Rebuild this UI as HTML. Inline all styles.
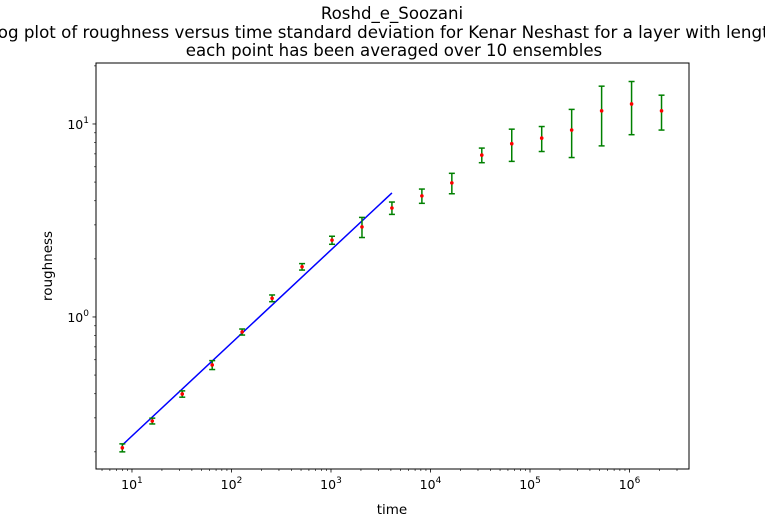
<!DOCTYPE html>
<html><head><meta charset="utf-8"><style>
body{margin:0;background:#fff;}
svg{display:block;font-family:"DejaVu Sans","Liberation Sans",sans-serif;}
</style></head><body>
<svg id="chart" width="765" height="527" viewBox="0 0 765 527">
<text x="392" y="19" text-anchor="middle" font-size="16.6">Roshd_e_Soozani</text>
<text x="389" y="38" text-anchor="middle" font-size="16.7">log-log plot of roughness versus time standard deviation for Kenar Neshast for a layer with length 200</text>
<text x="394" y="56" text-anchor="middle" font-size="16.6">each point has been averaged over 10 ensembles</text>
<text x="392" y="514" text-anchor="middle" font-size="13.5">time</text>
<text x="52" y="266" text-anchor="middle" font-size="13.5" transform="rotate(-90 52 266)">roughness</text>
<g id="plot"></g>
<rect x="96" y="63" width="593" height="406" fill="none" stroke="#000" stroke-width="1"/>
</svg>
<script>
const times=[8,16,32,64,128,256,512,1024,2048,4096,8192,16384,32768,65536,131072,262144,524288,1048576,2097152];
const roughness=[0.21,0.289,0.399,0.564,0.836,1.25,1.82,2.5,2.93,3.67,4.24,4.95,6.9,7.9,8.45,9.3,11.7,12.7,11.7];
const errors=[0.01,0.01,0.015,0.03,0.03,0.05,0.07,0.12,0.35,0.27,0.36,0.6,0.6,1.5,1.25,2.6,4,3.9,2.4];
const fitX=[8,4096];
const fitY=[0.217,4.39];
const xTickExp=[1,2,3,4,5,6];
const yTickExp=[0,1];

const L=96,R=689,T=63,B=469;
const xmin=Math.log10(4.35),xmax=Math.log10(3.96e6);
const ymin=Math.log10(0.163),ymax=Math.log10(20.7);
const sx=v=>L+(Math.log10(v)-xmin)/(xmax-xmin)*(R-L);
const sy=v=>B-(Math.log10(v)-ymin)/(ymax-ymin)*(B-T);
const NS='http://www.w3.org/2000/svg';
const g=document.getElementById('plot');
function mk(t,a){const e=document.createElementNS(NS,t);for(const k in a)e.setAttribute(k,a[k]);g.appendChild(e);return e;}

for(let e=0;e<=6;e++){for(let m=1;m<10;m++){const v=m*Math.pow(10,e);if(v<4.35||v>3.96e6)continue;const x=sx(v);
 const t=mk('line',{x1:x,x2:x,y1:B,y2:B+(m==1?3.5:2),stroke:'#000','stroke-width':m==1?0.8:0.6});
 
 }}
xTickExp.forEach(e=>{const x=sx(Math.pow(10,e));
 const t=mk('text',{x:x,y:B+20,'text-anchor':'middle','font-size':12.5});
 t.innerHTML='10<tspan dy="-6" font-size="9">'+e+'</tspan>';
 
 });
for(let e=-1;e<=1;e++){for(let m=1;m<10;m++){const v=m*Math.pow(10,e);if(v<0.163||v>20.7)continue;const y=sy(v);
 const t=mk('line',{x1:L,x2:L-(m==1?3.5:2),y1:y,y2:y,stroke:'#000','stroke-width':m==1?0.8:0.6});
 
 }}
yTickExp.forEach(e=>{const y=sy(Math.pow(10,e));
 const t=mk('text',{x:L-7,y:y+5,'text-anchor':'end','font-size':12.5});
 t.innerHTML='10<tspan dy="-6" font-size="9">'+e+'</tspan>';
 
 });
const fl=mk('line',{x1:sx(fitX[0]),y1:sy(fitY[0]),x2:sx(fitX[1]),y2:sy(fitY[1]),stroke:'#0000ff','stroke-width':1.5});


times.forEach((t,i)=>{const x=sx(t),v=roughness[i],er=errors[i];
 const y1=sy(v+er),y2=sy(Math.max(v-er,1e-3));
 const gb=document.createElementNS(NS,'g');g.appendChild(gb);
 
 
 [[x,y1,x,y2],[x-3,y1,x+3,y1],[x-3,y2,x+3,y2]].forEach(c=>{const l=document.createElementNS(NS,'line');
  l.setAttribute('x1',c[0]);l.setAttribute('y1',c[1]);l.setAttribute('x2',c[2]);l.setAttribute('y2',c[3]);
  l.setAttribute('stroke','#008000');l.setAttribute('stroke-width',1.5);gb.appendChild(l);});
 const p=mk('circle',{cx:x,cy:sy(v),r:1.8,fill:'#ff0000'});
 
 
});
</script>
</body></html>
